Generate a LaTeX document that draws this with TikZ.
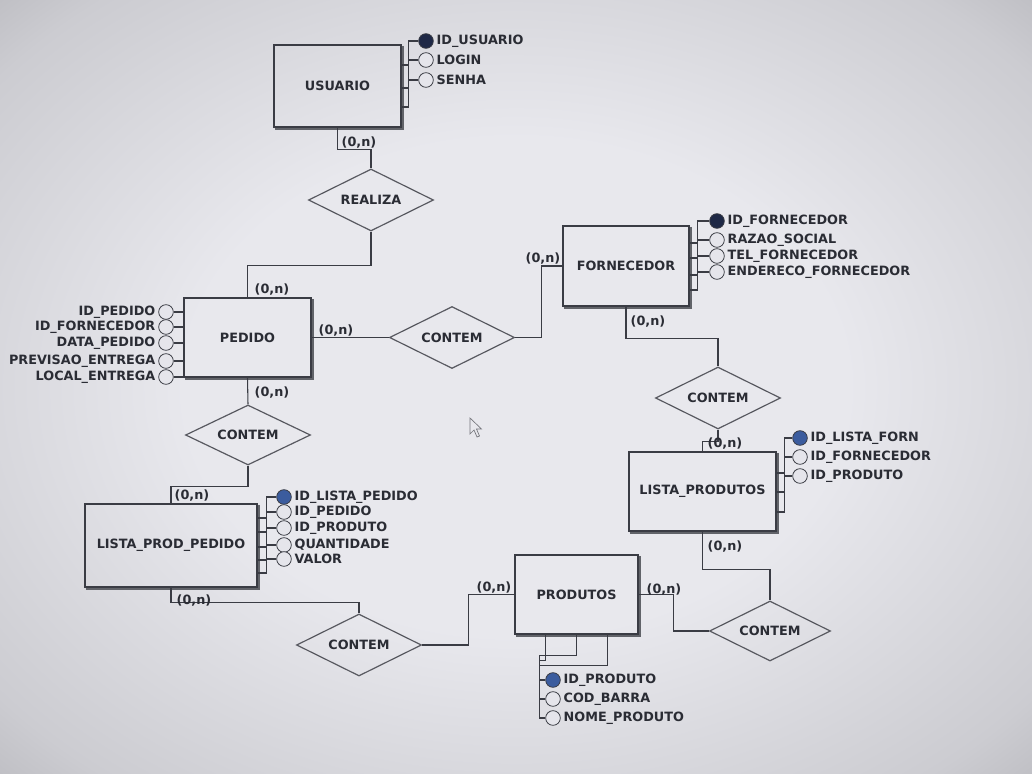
\documentclass[tikz,border=0pt]{standalone}
\usepackage{fontspec}
\setmainfont{DejaVu Sans}
\usetikzlibrary{shapes.geometric,calc}

\definecolor{ink}{HTML}{2A2C34}
\definecolor{linec}{HTML}{3A3C44}
\definecolor{keydark}{HTML}{1E2846}
\definecolor{keyblue}{HTML}{3B5C9E}
\definecolor{bgin}{rgb}{0.91,0.91,0.93}
\definecolor{bgmid}{rgb}{0.80,0.80,0.82}
\definecolor{bgout}{rgb}{0.52,0.52,0.54}
\definecolor{ringfill}{rgb}{0.90,0.90,0.92}
\pgfdeclareradialshading{screenglow}{\pgfpoint{0bp}{0bp}}{color(0bp)=(bgin); color(16bp)=(bgin); color(32bp)=(bgmid); color(52bp)=(bgout); color(80bp)=(bgout)}

\begin{document}
\begin{tikzpicture}[x=0.75pt,y=-0.75pt,
  txt/.style={font=\bfseries\fontsize{9.6}{10.5}\selectfont, text=ink},
  entity/.style={txt, draw=linec, line width=1.3pt, rectangle, inner sep=0pt},
  relation/.style={txt, diamond, draw=linec!85, line width=0.9pt, inner sep=0pt,
    aspect=2, minimum width=93.75pt, minimum height=46.5pt},
  conn/.style={draw=linec, line width=0.8pt},
  shadowline/.style={draw=linec!80, line width=1pt},
  attrib/.style={circle, draw=linec, line width=0.6pt, fill=ringfill,
    minimum size=11pt, inner sep=0pt},
  keyattr/.style={attrib, fill=keydark},
  keyattrb/.style={attrib, fill=keyblue},
  atxt/.style={txt, inner sep=0pt},
  card/.style={txt, inner sep=0pt}]

% screen background
\shade[shading=screenglow] (0,0) rectangle (1032,774);
\useasboundingbox (0,0) rectangle (1032,774);

% entities
\node[entity, minimum width=95.25pt, minimum height=61.5pt] (usuario) at (337.5,86) {USUARIO};
\node[entity, minimum width=95.25pt, minimum height=59.25pt] (pedido) at (247.5,337.5) {PEDIDO};
\node[entity, minimum width=94.5pt, minimum height=60pt] (fornecedor) at (626,266) {FORNECEDOR};
\node[entity, minimum width=110.25pt, minimum height=59.25pt] (listaprod) at (702.5,491.5) {LISTA\_PRODUTOS};
\node[entity, minimum width=92.25pt, minimum height=59.25pt] (produtos) at (576.5,594.5) {PRODUTOS};
\node[entity, minimum width=129pt, minimum height=62.25pt] (lpp) at (171,545.5) {LISTA\_PROD\_PEDIDO};

% drop shadow along the lower and right edges of each entity
\foreach \e in {usuario,pedido,fornecedor,listaprod,produtos,lpp}
  \draw[shadowline] ([shift={(1.2pt,-0.9pt)}]\e.south west) -- ([shift={(0.9pt,-0.9pt)}]\e.south east)
    -- ([shift={(0.9pt,-1.2pt)}]\e.north east);

% relationships
\node[relation] (realiza) at (371,200) {REALIZA};
\node[relation] (contemA) at (452,337.5) {CONTEM};
\node[relation] (contemB) at (718,398) {CONTEM};
\node[relation, minimum width=90.75pt, minimum height=45pt] (contemC) at (770,631) {CONTEM};
\node[relation] (contemD) at (359,645) {CONTEM};
\node[relation, minimum height=45pt] (contemE) at (248,435) {CONTEM};

% relationship lines
\draw[conn] (usuario.south) -- ++(0,22) -| (realiza.north);
\draw[conn] (realiza.south) -- ++(0,34) -| (pedido.north);
\draw[conn] (pedido.east) -- (contemA.west);
\draw[conn] (contemA.east) -- ++(26,0) |- (fornecedor.west);
\draw[conn] (fornecedor.south) -- ++(0,32) -| (contemB.north);
\draw[conn] (contemB.south) -- ++(0,12) -| (listaprod.north);
\draw[conn] (listaprod.south) -- ++(0,38) -| (contemC.north);
\draw[conn] (contemC.west) -- ++(-35,0) |- (produtos.east);
\draw[conn] (produtos.west) -- ++(-46,0) |- (contemD.east);
\draw[conn] (contemD.north) -- ++(0,-11) -| (lpp.south);
\draw[conn] (pedido.south) -- (contemE.north);
\draw[conn] (contemE.south) -- ++(0,21) -| (lpp.north);

% cardinalities
\node[card] (c1) at (359,143) {(0,n)};
\node[card] (c2) at (272,290) {(0,n)};
\node[card] (c3) at (336,331) {(0,n)};
\node[card] (c4) at (543,259) {(0,n)};
\node[card] (c5) at (648,322) {(0,n)};
\node[card] (c6) at (725,444) {(0,n)};
\node[card] (c7) at (725,547) {(0,n)};
\node[card] (c8) at (664,590) {(0,n)};
\node[card] (c9) at (494,588) {(0,n)};
\node[card] (c10) at (194,601) {(0,n)};
\node[card] (c11) at (272,393) {(0,n)};
\node[card] (c12) at (192,496) {(0,n)};

% USUARIO attributes
\node[keyattr, label={[atxt, label distance=2pt]right:ID\_USUARIO}] (u1) at (426,41) {};
\node[attrib, label={[atxt, label distance=2pt]right:LOGIN}] (u2) at (426,60) {};
\node[attrib, label={[atxt, label distance=2pt]right:SENHA}] (u3) at (426,80) {};
\draw[conn] (usuario.east) ++(0,21) -- ++(7,0) |- (u1.west);
\draw[conn] (usuario.east) ++(0,2) -- ++(7,0) |- (u2.west);
\draw[conn] (usuario.east) ++(0,-21) -- ++(7,0) |- (u3.west);

% FORNECEDOR attributes
\node[keyattr, label={[atxt, label distance=2pt]right:ID\_FORNECEDOR}] (f1) at (717,221) {};
\node[attrib, label={[atxt, label distance=2pt]right:RAZAO\_SOCIAL}] (f2) at (717,240) {};
\node[attrib, label={[atxt, label distance=2pt]right:TEL\_FORNECEDOR}] (f3) at (717,256) {};
\node[attrib, label={[atxt, label distance=2pt]right:ENDERECO\_FORNECEDOR}] (f4) at (717,272) {};
\draw[conn] (fornecedor.east) ++(0,24) -- ++(8,0) |- (f1.west);
\draw[conn] (fornecedor.east) ++(0,9) -- ++(8,0) |- (f2.west);
\draw[conn] (fornecedor.east) ++(0,-8) -- ++(8,0) |- (f3.west);
\draw[conn] (fornecedor.east) ++(0,-23) -- ++(8,0) |- (f4.west);

% LISTA_PRODUTOS attributes
\node[keyattrb, label={[atxt, label distance=2pt]right:ID\_LISTA\_FORN}] (l1) at (800,438) {};
\node[attrib, label={[atxt, label distance=2pt]right:ID\_FORNECEDOR}] (l2) at (800,457) {};
\node[attrib, label={[atxt, label distance=2pt]right:ID\_PRODUTO}] (l3) at (800,476) {};
\draw[conn] (listaprod.east) ++(0,20.5) -- ++(8,0) |- (l1.west);
\draw[conn] (listaprod.east) ++(0,0.5) -- ++(8,0) |- (l2.west);
\draw[conn] (listaprod.east) ++(0,-18.5) -- ++(8,0) |- (l3.west);

% LISTA_PROD_PEDIDO attributes
\node[keyattrb, label={[atxt, label distance=2pt]right:ID\_LISTA\_PEDIDO}] (k1) at (284,497) {};
\node[attrib, label={[atxt, label distance=2pt]right:ID\_PEDIDO}] (k2) at (284,512) {};
\node[attrib, label={[atxt, label distance=2pt]right:ID\_PRODUTO}] (k3) at (284,528) {};
\node[attrib, label={[atxt, label distance=2pt]right:QUANTIDADE}] (k4) at (284,545) {};
\node[attrib, label={[atxt, label distance=2pt]right:VALOR}] (k5) at (284,559) {};
\draw[conn] (lpp.east) ++(0,27.5) -- ++(9,0) |- (k1.west);
\draw[conn] (lpp.east) ++(0,14.5) -- ++(9,0) |- (k2.west);
\draw[conn] (lpp.east) ++(0,1.5) -- ++(9,0) |- (k3.west);
\draw[conn] (lpp.east) ++(0,-13.5) -- ++(9,0) |- (k4.west);
\draw[conn] (lpp.east) ++(0,-27.5) -- ++(9,0) |- (k5.west);

% PEDIDO attributes
\node[attrib, label={[atxt, label distance=2pt]left:ID\_PEDIDO}] (p1) at (166,312) {};
\node[attrib, label={[atxt, label distance=2pt]left:ID\_FORNECEDOR}] (p2) at (166,327) {};
\node[attrib, label={[atxt, label distance=2pt]left:DATA\_PEDIDO}] (p3) at (166,343) {};
\node[attrib, label={[atxt, label distance=2pt]left:PREVISAO\_ENTREGA}] (p4) at (166,361) {};
\node[attrib, label={[atxt, label distance=2pt]left:LOCAL\_ENTREGA}] (p5) at (166,377) {};
\foreach \a in {p1,p2,p3,p4,p5}
  \draw[conn] (\a.east) -- (\a.east -| pedido.west);

% PRODUTOS attributes
\node[keyattrb, label={[atxt, label distance=2pt]right:ID\_PRODUTO}] (r1) at (553,680) {};
\node[attrib, label={[atxt, label distance=2pt]right:COD\_BARRA}] (r2) at (553,699) {};
\node[attrib, label={[atxt, label distance=2pt]right:NOME\_PRODUTO}] (r3) at (553,718) {};
\draw[conn] (produtos.south) -- ++(0,21) -- ++(-37,0) |- (r1.west);
\draw[conn] (produtos.south) ++(-31,0) -- ++(0,26) -- ++(-6,0) |- (r2.west);
\draw[conn] (produtos.south) ++(31,0) -- ++(0,31) -- ++(-68,0) |- (r3.west);

% mouse pointer
\draw[line width=0.5pt, draw=linec!70, fill=bgin]
  (470,418) -- (470,434) -- (474,430) -- (477,437) -- (479.5,436) -- (476.5,429) -- (481.5,429) -- cycle;
\end{tikzpicture}
\end{document}
